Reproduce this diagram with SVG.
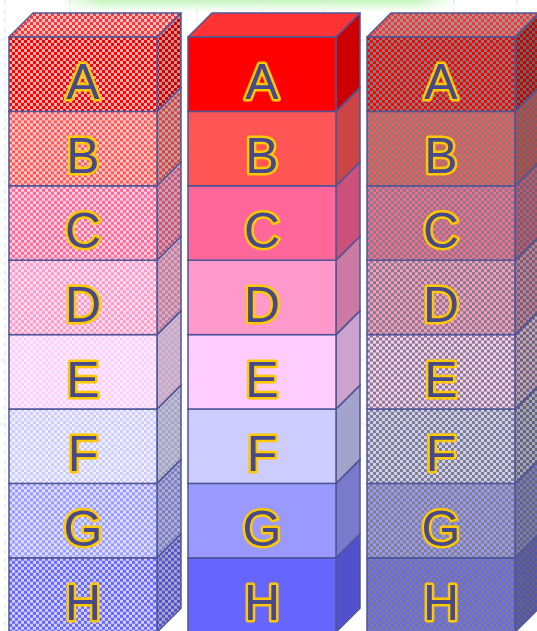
<svg xmlns="http://www.w3.org/2000/svg" xmlns:xlink="http://www.w3.org/1999/xlink" width="537" height="631" viewBox="0 0 537 631">
<style>
.grid{stroke:#dbe3f1;stroke-width:1;stroke-dasharray:5 4;fill:none}
.dk{fill:#000;fill-opacity:.2;stroke:#4f5597;stroke-width:1.5;stroke-linejoin:round}
.lt{fill:#fff;fill-opacity:.2;stroke:#4f5597;stroke-width:1.5;stroke-linejoin:round}
.fr{stroke:#4f5597;stroke-width:1.5}
.lbl{font-family:"Liberation Sans",Arial,sans-serif;font-size:50px;fill:#46498c;stroke:#ffc800;stroke-width:5;stroke-linejoin:round;paint-order:stroke;text-anchor:middle}
.tint{fill-opacity:.3}
</style>
<defs>
<linearGradient id="band" x1="0" y1="0" x2="1" y2="0">
<stop offset="0" stop-color="#c6f5bf" stop-opacity="0"/>
<stop offset="0.1" stop-color="#c6f5bf" stop-opacity="1"/>
<stop offset="0.9" stop-color="#c6f5bf" stop-opacity="1"/>
<stop offset="1" stop-color="#c6f5bf" stop-opacity="0"/>
</linearGradient>
<linearGradient id="bandv" x1="0" y1="0" x2="0" y2="1">
<stop offset="0" stop-color="#fff" stop-opacity="0"/>
<stop offset="1" stop-color="#fff" stop-opacity="1"/>
</linearGradient>
<pattern id="wA" width="6" height="6" patternUnits="userSpaceOnUse"><rect width="6" height="6" fill="#fff"/><rect width="6" height="6" fill="#ff0000" class="tint"/><rect width="3" height="3" fill="#ff0000"/><rect x="3" y="3" width="3" height="3" fill="#ff0000"/></pattern>
<pattern id="wB" width="6" height="6" patternUnits="userSpaceOnUse"><rect width="6" height="6" fill="#fff"/><rect width="6" height="6" fill="#ff5555" class="tint"/><rect width="3" height="3" fill="#ff5555"/><rect x="3" y="3" width="3" height="3" fill="#ff5555"/></pattern>
<pattern id="wC" width="6" height="6" patternUnits="userSpaceOnUse"><rect width="6" height="6" fill="#fff"/><rect width="6" height="6" fill="#ff6699" class="tint"/><rect width="3" height="3" fill="#ff6699"/><rect x="3" y="3" width="3" height="3" fill="#ff6699"/></pattern>
<pattern id="wD" width="6" height="6" patternUnits="userSpaceOnUse"><rect width="6" height="6" fill="#fff"/><rect width="6" height="6" fill="#ff99cc" class="tint"/><rect width="3" height="3" fill="#ff99cc"/><rect x="3" y="3" width="3" height="3" fill="#ff99cc"/></pattern>
<pattern id="wE" width="6" height="6" patternUnits="userSpaceOnUse"><rect width="6" height="6" fill="#fff"/><rect width="6" height="6" fill="#ffccff" class="tint"/><rect width="3" height="3" fill="#ffccff"/><rect x="3" y="3" width="3" height="3" fill="#ffccff"/></pattern>
<pattern id="wF" width="6" height="6" patternUnits="userSpaceOnUse"><rect width="6" height="6" fill="#fff"/><rect width="6" height="6" fill="#ccccff" class="tint"/><rect width="3" height="3" fill="#ccccff"/><rect x="3" y="3" width="3" height="3" fill="#ccccff"/></pattern>
<pattern id="wG" width="6" height="6" patternUnits="userSpaceOnUse"><rect width="6" height="6" fill="#fff"/><rect width="6" height="6" fill="#9999ff" class="tint"/><rect width="3" height="3" fill="#9999ff"/><rect x="3" y="3" width="3" height="3" fill="#9999ff"/></pattern>
<pattern id="wH" width="6" height="6" patternUnits="userSpaceOnUse"><rect width="6" height="6" fill="#fff"/><rect width="6" height="6" fill="#6666ff" class="tint"/><rect width="3" height="3" fill="#6666ff"/><rect x="3" y="3" width="3" height="3" fill="#6666ff"/></pattern>
<pattern id="gA" width="6" height="6" patternUnits="userSpaceOnUse"><rect width="6" height="6" fill="#808080"/><rect width="3" height="3" fill="#ff0000"/><rect x="3" y="3" width="3" height="3" fill="#ff0000"/></pattern>
<pattern id="gB" width="6" height="6" patternUnits="userSpaceOnUse"><rect width="6" height="6" fill="#808080"/><rect width="3" height="3" fill="#ff5555"/><rect x="3" y="3" width="3" height="3" fill="#ff5555"/></pattern>
<pattern id="gC" width="6" height="6" patternUnits="userSpaceOnUse"><rect width="6" height="6" fill="#808080"/><rect width="3" height="3" fill="#ff6699"/><rect x="3" y="3" width="3" height="3" fill="#ff6699"/></pattern>
<pattern id="gD" width="6" height="6" patternUnits="userSpaceOnUse"><rect width="6" height="6" fill="#808080"/><rect width="3" height="3" fill="#ff99cc"/><rect x="3" y="3" width="3" height="3" fill="#ff99cc"/></pattern>
<pattern id="gE" width="6" height="6" patternUnits="userSpaceOnUse"><rect width="6" height="6" fill="#808080"/><rect width="3" height="3" fill="#ffccff"/><rect x="3" y="3" width="3" height="3" fill="#ffccff"/></pattern>
<pattern id="gF" width="6" height="6" patternUnits="userSpaceOnUse"><rect width="6" height="6" fill="#808080"/><rect width="3" height="3" fill="#ccccff"/><rect x="3" y="3" width="3" height="3" fill="#ccccff"/></pattern>
<pattern id="gG" width="6" height="6" patternUnits="userSpaceOnUse"><rect width="6" height="6" fill="#808080"/><rect width="3" height="3" fill="#9999ff"/><rect x="3" y="3" width="3" height="3" fill="#9999ff"/></pattern>
<pattern id="gH" width="6" height="6" patternUnits="userSpaceOnUse"><rect width="6" height="6" fill="#808080"/><rect width="3" height="3" fill="#6666ff"/><rect x="3" y="3" width="3" height="3" fill="#6666ff"/></pattern>
<g id="box">
<polygon points="148,0 172,-24 172,50.4 148,74.4"/>
<polygon points="148,0 172,-24 172,50.4 148,74.4" class="dk"/>
<polygon points="0,0 24,-24 172,-24 148,0"/>
<polygon points="0,0 24,-24 172,-24 148,0" class="lt"/>
<rect width="148" height="74.4" class="fr"/>
</g>
</defs>
<rect width="537" height="631" fill="#fff"/>
<g id="background">
<rect x="60" y="0" width="395" height="12" fill="url(#band)"/>
<rect x="60" y="0" width="395" height="12" fill="url(#bandv)"/>
<g class="grid">
<line x1="5" y1="0" x2="5" y2="631"/>
<line x1="70" y1="0" x2="70" y2="631"/>
<line x1="197" y1="0" x2="197" y2="631"/>
<line x1="262" y1="0" x2="262" y2="631"/>
<line x1="324" y1="0" x2="324" y2="631"/>
<line x1="454" y1="0" x2="454" y2="631"/>
<line x1="517" y1="0" x2="517" y2="631"/>
<line x1="0" y1="40" x2="537" y2="40"/>
<line x1="0" y1="360" x2="537" y2="360"/>
<line x1="0" y1="424" x2="537" y2="424"/>
</g>
</g>
<g id="column-1">
<g id="c1-H"><use href="#box" x="9" y="557.8" fill="url(#wH)"/><text class="lbl" x="83" y="620">H</text></g>
<g id="c1-G"><use href="#box" x="9" y="483.4" fill="url(#wG)"/><text class="lbl" x="83" y="545.5">G</text></g>
<g id="c1-F"><use href="#box" x="9" y="409" fill="url(#wF)"/><text class="lbl" x="83" y="471">F</text></g>
<g id="c1-E"><use href="#box" x="9" y="334.6" fill="url(#wE)"/><text class="lbl" x="83" y="396.5">E</text></g>
<g id="c1-D"><use href="#box" x="9" y="260.2" fill="url(#wD)"/><text class="lbl" x="83" y="322">D</text></g>
<g id="c1-C"><use href="#box" x="9" y="185.8" fill="url(#wC)"/><text class="lbl" x="83" y="247.5">C</text></g>
<g id="c1-B"><use href="#box" x="9" y="111.4" fill="url(#wB)"/><text class="lbl" x="83" y="173">B</text></g>
<g id="c1-A"><use href="#box" x="9" y="37" fill="url(#wA)"/><text class="lbl" x="83" y="98.5">A</text></g>
</g>
<g id="column-2">
<g id="c2-H"><use href="#box" x="188" y="557.8" fill="#6666ff"/><text class="lbl" x="262" y="620">H</text></g>
<g id="c2-G"><use href="#box" x="188" y="483.4" fill="#9999ff"/><text class="lbl" x="262" y="545.5">G</text></g>
<g id="c2-F"><use href="#box" x="188" y="409" fill="#ccccff"/><text class="lbl" x="262" y="471">F</text></g>
<g id="c2-E"><use href="#box" x="188" y="334.6" fill="#ffccff"/><text class="lbl" x="262" y="396.5">E</text></g>
<g id="c2-D"><use href="#box" x="188" y="260.2" fill="#ff99cc"/><text class="lbl" x="262" y="322">D</text></g>
<g id="c2-C"><use href="#box" x="188" y="185.8" fill="#ff6699"/><text class="lbl" x="262" y="247.5">C</text></g>
<g id="c2-B"><use href="#box" x="188" y="111.4" fill="#ff5555"/><text class="lbl" x="262" y="173">B</text></g>
<g id="c2-A"><use href="#box" x="188" y="37" fill="#ff0000"/><text class="lbl" x="262" y="98.5">A</text></g>
</g>
<g id="column-3">
<g id="c3-H"><use href="#box" x="367" y="557.8" fill="url(#gH)"/><text class="lbl" x="441" y="620">H</text></g>
<g id="c3-G"><use href="#box" x="367" y="483.4" fill="url(#gG)"/><text class="lbl" x="441" y="545.5">G</text></g>
<g id="c3-F"><use href="#box" x="367" y="409" fill="url(#gF)"/><text class="lbl" x="441" y="471">F</text></g>
<g id="c3-E"><use href="#box" x="367" y="334.6" fill="url(#gE)"/><text class="lbl" x="441" y="396.5">E</text></g>
<g id="c3-D"><use href="#box" x="367" y="260.2" fill="url(#gD)"/><text class="lbl" x="441" y="322">D</text></g>
<g id="c3-C"><use href="#box" x="367" y="185.8" fill="url(#gC)"/><text class="lbl" x="441" y="247.5">C</text></g>
<g id="c3-B"><use href="#box" x="367" y="111.4" fill="url(#gB)"/><text class="lbl" x="441" y="173">B</text></g>
<g id="c3-A"><use href="#box" x="367" y="37" fill="url(#gA)"/><text class="lbl" x="441" y="98.5">A</text></g>
</g>
<g id="connectors"/>
</svg>
